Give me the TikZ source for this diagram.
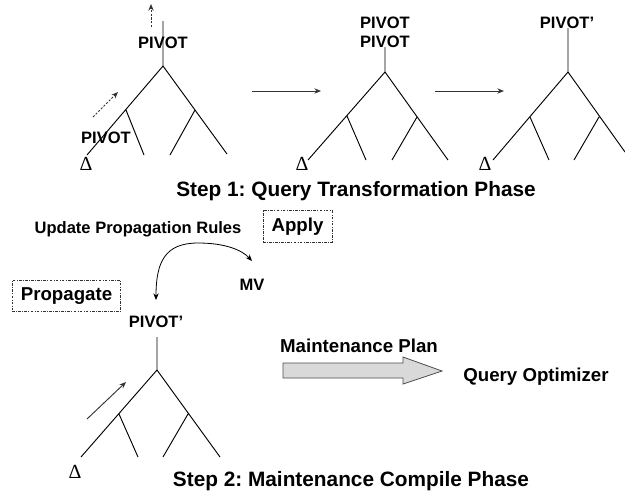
\documentclass[tikz,border=0pt]{standalone}
\usepackage{fontspec}
\setmainfont{Liberation Sans}
\newfontfamily\serifdelta{Liberation Serif}
\usetikzlibrary{arrows.meta}
\frenchspacing
\begin{document}
\begin{tikzpicture}[x=0.75pt,y=-0.75pt,
  treeline/.style={line width=0.7pt, black},
  lbl/.style={font=\fontsize{12.4}{14}\selectfont\bfseries, inner sep=0pt, anchor=base},
  biglbl/.style={font=\fontsize{14}{16}\selectfont\bfseries, inner sep=0pt, anchor=base},
  titlelbl/.style={font=\fontsize{15.6}{18}\selectfont\bfseries, inner sep=0pt, anchor=base},
  deltalbl/.style={font=\serifdelta\fontsize{15}{16}\selectfont, inner sep=0pt, anchor=base},
  dotarrow/.style={line width=0.7pt, black!80, dash pattern=on 1.6pt off 1.2pt, -{Stealth[length=5pt,width=4pt]}},
  solidarrow/.style={line width=0.7pt, black!80, -{Stealth[length=5pt,width=4pt]}},
  dashbox/.style={draw=black!80, line width=0.6pt, dash pattern=on 2pt off 1pt on 0.6pt off 1pt, inner xsep=6.5pt, inner ysep=0pt, minimum height=23.5pt, anchor=center}
]
\useasboundingbox (0,0) rectangle (625,490);

% ---------- Tree 1 ----------
\coordinate (t1top) at (163,21);
\coordinate (t1root) at (163,66);
\coordinate (t1L) at (87,155);
\coordinate (t1Li) at (126,110);
\coordinate (t1Lr) at (144,155);
\coordinate (t1Ri) at (195,110);
\coordinate (t1Rl) at (170,155);
\coordinate (t1R) at (227,154);
\node[lbl] (p1a) at (163,48) {PIVOT};
\node[lbl] (p1b) at (106,143) {PIVOT};
\draw[treeline] (t1top) -- (t1root) (t1L) -- (t1root) -- (t1R)
  (t1Li) -- (t1Lr) (t1Ri) -- (t1Rl);
\node[deltalbl] (d1) at (86,170) {Δ};
\coordinate (a1s) at (151,27);
\coordinate (a1e) at (151,4);
\draw[dotarrow] (a1s) -- (a1e);
\coordinate (a2s) at (93,117);
\coordinate (a2e) at (118,92);
\draw[dotarrow] (a2s) -- (a2e);

% ---------- arrow 1 ----------
\coordinate (h1s) at (252,91);
\coordinate (h1e) at (321,91);
\draw[solidarrow] (h1s) -- (h1e);

% ---------- Tree 2 ----------
\coordinate (t2top) at (385,47);
\coordinate (t2root) at (385,72);
\coordinate (t2L) at (308,160);
\coordinate (t2Li) at (347,116);
\coordinate (t2Lr) at (366,160);
\coordinate (t2Ri) at (417,117);
\coordinate (t2Rl) at (392,160);
\coordinate (t2R) at (448,160);
\node[lbl] (p2a) at (385,28) {PIVOT};
\node[lbl] (p2b) at (385,47) {PIVOT};
\draw[treeline] (t2top) -- (t2root) (t2L) -- (t2root) -- (t2R)
  (t2Li) -- (t2Lr) (t2Ri) -- (t2Rl);
\node[deltalbl] (d2) at (302,170) {Δ};

% ---------- arrow 2 ----------
\coordinate (h2s) at (435,91);
\coordinate (h2e) at (504,91);
\draw[solidarrow] (h2s) -- (h2e);

% ---------- Tree 3 ----------
\coordinate (t3top) at (568,28);
\coordinate (t3root) at (568,72);
\coordinate (t3L) at (493,160);
\coordinate (t3Li) at (530,117);
\coordinate (t3Lr) at (549,160);
\coordinate (t3Ri) at (599,117);
\coordinate (t3Rl) at (574,160);
\coordinate (t3R) at (625,152);
\node[lbl] (p3) at (567,28) {PIVOT’};
\draw[treeline] (t3top) -- (t3root) (t3L) -- (t3root) -- (t3R)
  (t3Li) -- (t3Lr) (t3Ri) -- (t3Rl);
\node[deltalbl] (d3) at (485,170) {Δ};

\node[titlelbl] (title1) at (356,196) {Step 1: Query Transformation Phase};

% ---------- Step 2 ----------
\node[lbl] (upr) at (138,233) {Update Propagation Rules};
\node[biglbl, dashbox] (apply) at (297.5,226.5) {Apply};
\node[lbl] (mv) at (252,290) {MV};
\node[biglbl, dashbox] (prop) at (66.5,296) {Propagate};
\node[lbl] (p4) at (156,327) {PIVOT’};

\coordinate (cL) at (156,300);
\coordinate (cTop) at (198,243);
\coordinate (cR) at (252,261);
\draw[line width=0.6pt, black, {Stealth[length=5pt,width=4pt]}-{Stealth[length=5pt,width=4pt]}]
  (cL) .. controls (156,262) and (165,243) .. (cTop) .. controls (225,243) and (242,250) .. (cR);

% ---------- Tree 4 ----------
\coordinate (t4top) at (157,337);
\coordinate (t4root) at (157,370);
\coordinate (t4L) at (81,457);
\coordinate (t4Li) at (119,414);
\coordinate (t4Lr) at (138,457);
\coordinate (t4Ri) at (188,414);
\coordinate (t4Rl) at (163,457);
\coordinate (t4R) at (220,457);
\draw[treeline] (t4top) -- (t4root) (t4L) -- (t4root) -- (t4R)
  (t4Li) -- (t4Lr) (t4Ri) -- (t4Rl);
\node[deltalbl] (d4) at (75,478) {Δ};
\coordinate (a4s) at (87,419);
\coordinate (a4e) at (126,382);
\draw[solidarrow] (a4s) -- (a4e);

% ---------- Maintenance plan block arrow ----------
\node[biglbl] (mp) at (359,352) {Maintenance Plan};
\filldraw[fill=black!15, draw=black!70, line width=0.6pt]
  (283,363) -- (403,363) -- (403,357) -- (442,371) -- (403,384) -- (403,378) -- (283,378) -- cycle;
\node[biglbl] (qo) at (536,381) {Query Optimizer};

\node[titlelbl] (title2) at (351,486) {Step 2: Maintenance Compile Phase};
\end{tikzpicture}
\end{document}
